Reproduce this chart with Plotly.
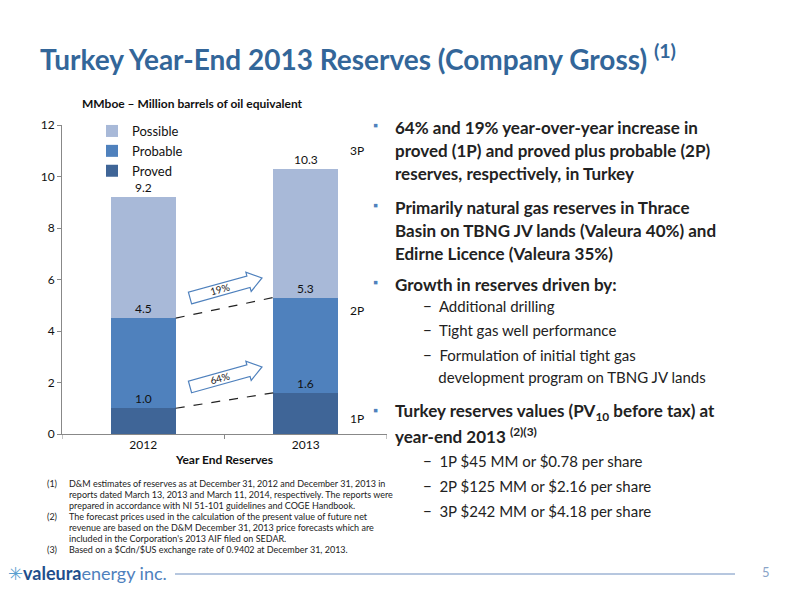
import math
import plotly.graph_objects as go

# ---- data ----
years = ["2012", "2013"]
proved = [1.0, 1.6]
probable = [3.5, 3.7]   # increments -> 2P totals 4.5, 5.3
possible = [4.7, 5.0]   # increments -> 3P totals 9.2, 10.3
totals_1p = [1.0, 1.6]
totals_2p = [4.5, 5.3]
totals_3p = [9.2, 10.3]
growth_labels = ["64%", "19%"]

C_PROVED = "#3f6597"
C_PROB = "#4f81bd"
C_POSS = "#a8b9d8"
TITLE_C = "#336699"
FONT = "Lato, Carlito, sans-serif"

W, H = 800, 600
OFF = 8              # page body margin
X0, X1 = 62, 387     # plot area in pixels (screen)
YT, YB = 125, 434


def px(x):
    return (x - OFF) / W


def py(y):
    return 1 - (y - OFF) / H


def text_at(x, y, text, size, color="#222", xanchor="left", **kw):
    return dict(x=px(x), y=py(y), xref="paper", yref="paper", xanchor=xanchor, yanchor="middle",
                text=text, showarrow=False, font=dict(size=size, color=color, family=FONT), **kw)


fig = go.Figure()
for name, vals, col in [("Proved", proved, C_PROVED),
                        ("Probable", probable, C_PROB),
                        ("Possible", possible, C_POSS)]:
    fig.add_trace(go.Bar(x=[0, 1], y=vals, name=name, marker_color=col,
                         marker_line_width=0, width=0.4))

ann = []
for i in range(len(years)):
    for v in (totals_1p[i], totals_2p[i], totals_3p[i]):
        ann.append(dict(x=i, y=v, xref="x", yref="y", text=f"{v:.1f}", showarrow=False,
                        yanchor="bottom", font=dict(size=12, color="#111")))

# 1P / 2P / 3P labels to the right of the 2013 bar
for lab, v in [("1P", totals_1p[1] - 1.0), ("2P", totals_2p[1] - 0.5), ("3P", totals_3p[1] + 0.7)]:
    ann.append(dict(x=1.26, y=v, xref="x", yref="y", text=lab, showarrow=False,
                    xanchor="left", font=dict(size=12, color="#111")))

shapes = []
# dashed connectors between bar tops
for a, b in [(totals_1p[0], totals_1p[1]), (totals_2p[0], totals_2p[1])]:
    shapes.append(dict(type="line", xref="x", yref="y", x0=0.2, y0=a, x1=0.8, y1=b,
                       line=dict(color="#222", width=1.2, dash="dash")))


def block_arrow(x0, y0, x1, y1, half=6, head=10, headlen=14):
    # block arrow drawn in pixel space, returned as svg path in paper coords
    dx, dy = x1 - x0, y1 - y0
    L = math.hypot(dx, dy)
    ux, uy = dx / L, dy / L
    nx, ny = -uy, ux
    bx, by = x1 - ux * headlen, y1 - uy * headlen
    pts = [(x0 + nx * half, y0 + ny * half), (bx + nx * half, by + ny * half),
           (bx + nx * head, by + ny * head), (x1, y1),
           (bx - nx * head, by - ny * head), (bx - nx * half, by - ny * half),
           (x0 - nx * half, y0 - ny * half)]
    return "M " + " L ".join(f"{px(a):.4f},{py(b):.4f}" for a, b in pts) + " Z"


for (ax0, ay0, ax1, ay1), lab in zip([(190, 387, 262, 367), (190, 298, 262, 278)], growth_labels):
    shapes.append(dict(type="path", xref="paper", yref="paper", path=block_arrow(ax0, ay0, ax1, ay1),
                       fillcolor="white", line=dict(color="#4f81bd", width=1.2)))
    ann.append(text_at((ax0 + ax1) / 2 - 6, (ay0 + ay1) / 2 + 1, lab, 10, xanchor="center",
                       textangle=-16))

# footer line
shapes.append(dict(type="line", xref="paper", yref="paper", x0=px(175), x1=px(735), y0=py(574), y1=py(574),
                   line=dict(color="#6f8fbf", width=1)))

# title
ann.append(dict(x=px(38), y=py(57), xref="paper", yref="paper", xanchor="left", yanchor="middle",
                text="Turkey Year-End 2013 Reserves (Company Gross) <sup>(1)</sup>", showarrow=False,
                font=dict(size=28, color=TITLE_C, family=FONT, weight="bold")))
ann.append(text_at(80, 103, "<b>MMboe – Million barrels of oil equivalent</b>", 12, color="#111"))

# bullets
bullet_lines = [
    (127, True, "<b>64% and 19% year-over-year increase in</b>"),
    (150, False, "<b>proved (1P) and proved plus probable (2P)</b>"),
    (173, False, "<b>reserves, respectively, in Turkey</b>"),
    (207, True, "<b>Primarily natural gas reserves in Thrace</b>"),
    (230, False, "<b>Basin on TBNG JV lands (Valeura 40%) and</b>"),
    (253, False, "<b>Edirne Licence (Valeura 35%)</b>"),
    (284, True, "<b>Growth in reserves driven by:</b>"),
    (412, True, "<b>Turkey reserves values (PV<sub>10</sub> before tax) at</b>"),
    (435, False, "<b>year-end 2013 <sup>(2)(3)</sup></b>"),
]
for y, mark, t in bullet_lines:
    if mark:
        ann.append(text_at(375, y - 2, "▪", 13, color="#4f81bd", xanchor="center"))
    ann.append(text_at(393, y, t, 17))
subs = [(306, "−  Additional drilling"), (330, "−  Tight gas well performance"),
        (355, "−  Formulation of initial tight gas"), (377, "    development program on TBNG JV lands"),
        (461, "−  1P $45 MM or $0.78 per share"), (486, "−  2P $125 MM or $2.16 per share"),
        (511, "−  3P $242 MM or $4.18 per share")]
for y, t in subs:
    ann.append(text_at(421, y, t, 15))

# footnotes
notes = [
    ("(1)", "D&M estimates of reserves as at December 31, 2012 and December 31, 2013 in"),
    ("", "reports dated March 13, 2013 and March 11, 2014, respectively. The reports were"),
    ("", "prepared in accordance with NI 51-101 guidelines and COGE Handbook."),
    ("(2)", "The forecast prices used in the calculation of the present value of future net"),
    ("", "revenue are based on the D&M December 31, 2013 price forecasts which are"),
    ("", "included in the Corporation's 2013 AIF filed on SEDAR."),
    ("(3)", "Based on a $Cdn/$US exchange rate of 0.9402 at December 31, 2013."),
]
for k, (n, t) in enumerate(notes):
    y = 483 + 11 * k
    if n:
        ann.append(text_at(45, y, n, 9))
    ann.append(text_at(67, y, t, 9))

# logo text and page number
ann.append(text_at(6, 573, "<span style='color:#5aa0d0'>✳</span><span style='color:#1f4e8c'><b>valeura</b></span>"
                           "<span style='color:#4f81bd'>energy inc.</span>", 18))
ann.append(text_at(766, 572, "5", 13, color="#8aa4c8", xanchor="center"))

fig.update_layout(
    barmode="stack", width=W, height=H, margin=dict(l=0, r=0, t=0, b=0, autoexpand=False),
    paper_bgcolor="white", plot_bgcolor="white",
    font=dict(family=FONT, color="#111", size=12),
    showlegend=True,
    legend=dict(x=px(92), y=py(116), xanchor="left", yanchor="top", traceorder="reversed",
                font=dict(size=13), itemwidth=30, bgcolor="rgba(0,0,0,0)", tracegroupgap=0),
    xaxis=dict(domain=[px(X0), px(X1)], range=[-0.5, 1.5], tickvals=[0, 1], ticktext=years,
               showline=True, linecolor="#888", ticks="", showgrid=False, zeroline=False,
               tickfont=dict(size=12), automargin=False,
               title=dict(text="<b>Year End Reserves</b>", font=dict(size=12), standoff=4)),
    yaxis=dict(domain=[py(YB), py(YT)], range=[0, 12], dtick=2, showline=True, linecolor="#888",
               ticks="outside", tickcolor="#888", ticklen=4, showgrid=False, zeroline=False,
               tickfont=dict(size=12), automargin=False),
    annotations=ann, shapes=shapes,
)
# tick marks between categories on the x axis
for xv in [-0.5, 0.5, 1.5]:
    fig.add_shape(type="line", xref="x", yref="paper", x0=xv, x1=xv, y0=py(YB), y1=py(YB + 5),
                  line=dict(color="#888", width=1))
fig.write_html("out.html")
